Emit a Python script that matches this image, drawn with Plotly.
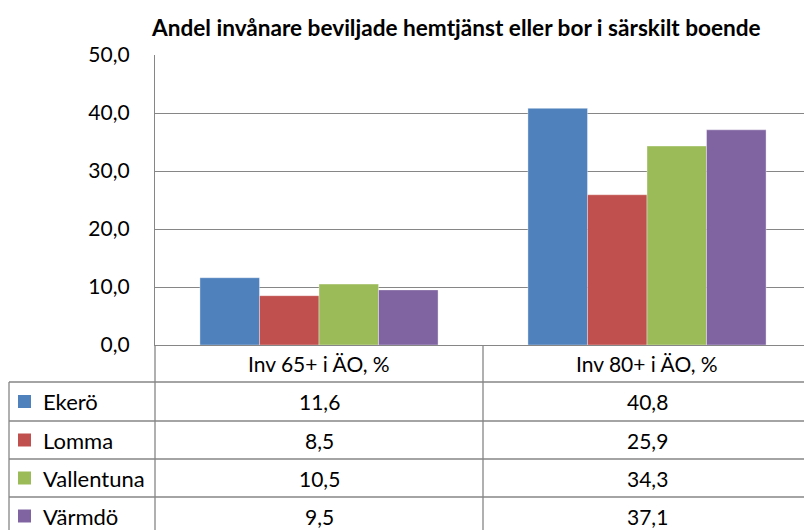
import plotly.graph_objects as go

categories = ["Inv 65+ i ÄO, %", "Inv 80+ i ÄO, %"]
series_names = ["Ekerö", "Lomma", "Vallentuna", "Värmdö"]
ekero = [11.6, 40.8]
lomma = [8.5, 25.9]
vallentuna = [10.5, 34.3]
varmdo = [9.5, 37.1]
series_values = [ekero, lomma, vallentuna, varmdo]
colors = ["#4F81BD", "#C0504D", "#9BBB59", "#8064A2"]
title_text = "Andel invånare beviljade hemtjänst eller bor i särskilt boende"

W, H = 804, 530
FONT = "Lato, 'Open Sans', sans-serif"
GRID = "#868686"

def px(x):
    return x / W

def py(y):
    return 1 - y / H

fig = go.Figure()
for name, vals, col in zip(series_names, series_values, colors):
    fig.add_trace(go.Bar(x=categories, y=vals, name=name, marker=dict(color=col, line=dict(width=0.6, color="rgba(255,255,255,0.6)"))))

left, top, bottom = 155, 55, 345
cat_w = 328
shapes = []
annotations = []

row_lines = [382, 421, 459, 497]
row_bottom = 535
table_left = 9
col_div = left + cat_w

def hline(y, x0, x1):
    shapes.append(dict(type="line", xref="paper", yref="paper", x0=px(x0), x1=px(x1), y0=py(y), y1=py(y), line=dict(color=GRID, width=1.3)))

def vline(x, y0, y1):
    shapes.append(dict(type="line", xref="paper", yref="paper", x0=px(x), x1=px(x), y0=py(y0), y1=py(y1), line=dict(color=GRID, width=1.3)))

for y in row_lines:
    hline(y, table_left, W)
vline(table_left, row_lines[0], H)
vline(left, bottom, H)
vline(col_div, bottom, H)

TXT = 21
for i, c in enumerate(categories):
    cx = left + cat_w * (i + 0.5)
    annotations.append(dict(xref="paper", yref="paper", x=px(cx), y=py((bottom + row_lines[0]) / 2), text=c, showarrow=False, xanchor="center", yanchor="middle", font=dict(size=TXT, color="#000", family=FONT)))

row_edges = row_lines + [row_bottom]
for r, (name, vals, col) in enumerate(zip(series_names, series_values, colors)):
    cy = (row_edges[r] + row_edges[r + 1]) / 2
    shapes.append(dict(type="rect", xref="paper", yref="paper", x0=px(18), x1=px(31), y0=py(cy + 6.5), y1=py(cy - 6.5), fillcolor=col, line=dict(width=0)))
    annotations.append(dict(xref="paper", yref="paper", x=px(41), y=py(cy), text=name, showarrow=False, xanchor="left", yanchor="middle", font=dict(size=22, color="#000", family=FONT)))
    for i, v in enumerate(vals):
        cx = left + cat_w * (i + 0.5)
        annotations.append(dict(xref="paper", yref="paper", x=px(cx), y=py(cy), text=f"{v:.1f}".replace(".", ","), showarrow=False, xanchor="center", yanchor="middle", font=dict(size=TXT, color="#000", family=FONT)))

annotations.append(dict(xref="paper", yref="paper", x=px(456), y=py(28), text=f"<b>{title_text}</b>", showarrow=False, xanchor="center", yanchor="middle", font=dict(size=22.6, color="#000", family=FONT)))

fig.update_layout(
    width=W, height=H,
    margin=dict(l=0, r=0, t=0, b=0, autoexpand=False),
    paper_bgcolor="white", plot_bgcolor="white",
    barmode="group", bargap=0.274, bargroupgap=0,
    showlegend=False,
    separators=", ",
    shapes=shapes,
    annotations=annotations,
    xaxis=dict(domain=[px(left), 1], range=[-0.5, -0.5 + (W - left) / cat_w], showticklabels=False, ticks="",
               showline=True, linecolor=GRID, linewidth=1.3, showgrid=False, zeroline=False, fixedrange=True, automargin=False),
    yaxis=dict(domain=[py(bottom), py(top)], range=[0, 50], dtick=10, tickformat=".1f",
               showgrid=True, gridcolor=GRID, gridwidth=1.3, showline=True, linecolor=GRID, linewidth=1.3,
               zeroline=False, ticks="", ticklabelstandoff=20, automargin=False,
               tickfont=dict(size=21, color="#000", family=FONT)),
)

fig.write_html("out.html", config={"displayModeBar": False},
               post_script="document.body.style.margin='0';document.documentElement.style.overflow='hidden';")
